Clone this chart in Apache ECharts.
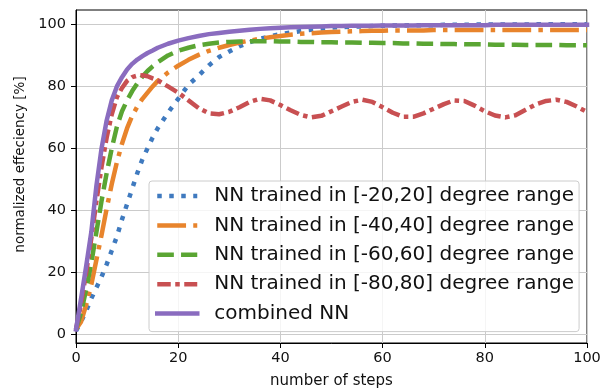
<!DOCTYPE html>
<html>
<head>
<meta charset="utf-8">
<script src="https://cdn.jsdelivr.net/npm/echarts@6/dist/echarts.min.js"></script>
<style>
  html, body { margin: 0; padding: 0; background: #fff; }
  #chart { width: 602px; height: 391px; }
</style>
</head>
<body>
<div id="chart"></div>
<script>
// sampled steps (x) shared by all curves
const steps = [0, 1, 2, 3, 4, 5, 6, 7, 8, 9, 10, 11, 12, 13, 14, 15, 16,
  18, 20, 22, 24, 26, 28, 30, 32, 34, 36, 38, 40, 42, 44, 46, 48, 50,
  52, 54, 56, 58, 60, 62, 64, 66, 68, 70, 72, 74, 76, 78, 80, 82, 84,
  86, 88, 90, 92, 94, 96, 98, 100];

const nn20 = [1, 4, 7.5, 11.5, 15, 18.5, 22.5, 27, 31.5, 37, 42, 47, 52, 56.5, 60, 63.5, 66.5,
  71.5, 76, 80.5, 83.5, 86.8, 89.5, 91.3, 93, 94.3, 95.4, 96.2, 96.9, 97.4, 97.9, 98.3, 98.7, 99,
  99.2, 99.3, 99.4, 99.5, 99.6, 99.7, 99.7, 99.8, 99.8, 99.8, 99.9, 99.9, 99.9, 100, 100, 100,
  100, 100, 100, 100.1, 100.1, 100.1, 100.1, 100.1, 100.1];

const nn40 = [1.5, 4, 9.5, 16, 24, 32, 40.5, 48.5, 55.5, 61.5, 66.5, 70.5, 73.5, 76, 78, 80, 81.8,
  84.5, 86.7, 88.6, 90.2, 91.5, 92.5, 93.4, 94.2, 94.8, 95.4, 95.9, 96.3, 96.7, 97, 97.2, 97.4, 97.6,
  97.7, 97.8, 97.9, 98, 98, 98.1, 98.1, 98.1, 98.1, 98.2, 98.2, 98.2, 98.2, 98.2, 98.2, 98.2, 98.2,
  98.2, 98.2, 98.2, 98.2, 98.2, 98.2, 98.2, 98.2];

const nn60 = [1.5, 7, 14.5, 23, 33, 43, 52, 60, 67, 72, 75.5, 78.5, 81, 83.2, 85, 86.5, 87.8,
  90, 91.5, 92.5, 93.3, 93.8, 94.2, 94.4, 94.5, 94.6, 94.6, 94.6, 94.5, 94.5, 94.4, 94.4, 94.3, 94.3,
  94.2, 94.2, 94.1, 94.1, 94, 94, 93.9, 93.9, 93.8, 93.8, 93.7, 93.7, 93.6, 93.6, 93.6, 93.5, 93.5,
  93.5, 93.4, 93.4, 93.4, 93.4, 93.3, 93.3, 93.3];

const nn80 = [1.5, 10, 20, 31, 43, 54, 63.5, 71, 76.5, 79.5, 81.8, 83, 83.5, 83.6, 83.3, 82.6, 82,
  80, 78, 75.5, 73, 71.3, 71, 71.8, 73.3, 75, 76, 75.5, 74, 72.3, 70.8, 70, 70.5, 72,
  73.5, 75, 75.7, 75, 73.3, 71.5, 70.2, 70.2, 71.3, 72.8, 74.3, 75.5, 75.3, 73.8, 72, 70.6, 70,
  70.7, 72.5, 74.2, 75.3, 75.7, 75, 73.5, 71.8];

const combined = [1.5, 11.5, 22, 33, 48, 60, 69, 75.5, 80, 83, 85.5, 87.3, 88.7, 89.8, 90.8, 91.6, 92.5,
  93.8, 94.8, 95.6, 96.3, 96.9, 97.3, 97.7, 98, 98.3, 98.6, 98.8, 99, 99.1, 99.2, 99.3, 99.4, 99.5,
  99.5, 99.6, 99.6, 99.6, 99.7, 99.7, 99.7, 99.7, 99.8, 99.8, 99.8, 99.8, 99.8, 99.8, 99.8, 99.9, 99.9,
  99.9, 99.9, 99.9, 99.9, 99.9, 99.9, 99.9, 99.9];

const names = [
  'NN trained in [-20,20] degree range',
  'NN trained in [-40,40] degree range',
  'NN trained in [-60,60] degree range',
  'NN trained in [-80,80] degree range',
  'combined NN'
];
const colors = ['#3f7abf', '#e8842c', '#5aa533', '#c85052', '#8a6cbf'];
const dashes = [[4.5, 7.5], [28.8, 7.2, 4.5, 7.2], [16.6, 7.2], [13.5, 4.5, 4.5, 4.5], 'solid'];
const yTicks = [0, 20, 40, 60, 80, 100];

const font = 'DejaVu Sans';
const seriesVals = [nn20, nn40, nn60, nn80, combined];

const chart = echarts.init(document.getElementById('chart'), null, { renderer: 'canvas' });

const series = seriesVals.map((vals, i) => ({
  name: names[i],
  type: 'line',
  data: steps.map((s, k) => [s, vals[k]]),
  symbol: 'none',
  color: colors[i],
  lineStyle: { color: colors[i], width: 4.5, type: dashes[i], cap: i === 4 ? 'square' : 'butt', join: 'round' },
  emphasis: { disabled: true },
  animation: false
}));

chart.setOption({
  animation: false,
  grid: {
    left: 76, right: 15, top: 10, bottom: 48,
    outerBoundsMode: 'none', containLabel: false,
    show: true, borderColor: '#000', borderWidth: 1, backgroundColor: 'transparent'
  },
  xAxis: {
    type: 'value', min: 0, max: 100, interval: 20,
    name: 'number of steps', nameLocation: 'middle', nameGap: 31,
    nameTextStyle: { fontFamily: font, fontSize: 15, color: '#111' },
    axisLine: { onZero: false, lineStyle: { color: '#000', width: 1 } },
    axisTick: { show: true, length: 5, lineStyle: { color: '#000' } },
    axisLabel: { fontFamily: font, fontSize: 14.5, color: '#111', margin: 8 },
    splitLine: { show: true, lineStyle: { color: '#cbcbcb', width: 1 } }
  },
  yAxis: {
    type: 'value', min: -2.9, max: 104.7,
    name: 'normalized effeciency [%]', nameLocation: 'middle', nameGap: 38,
    nameTextStyle: { fontFamily: font, fontSize: 13.5, color: '#111', padding: [0, 0, 0, 24] },
    axisLine: { onZero: false, lineStyle: { color: '#000', width: 1 } },
    axisTick: { show: true, length: 5, customValues: yTicks, lineStyle: { color: '#000' } },
    axisLabel: { fontFamily: font, fontSize: 14.5, color: '#111', margin: 10, customValues: yTicks },
    splitLine: { show: true, lineStyle: { color: '#cbcbcb', width: 1 } }
  },
  legend: {
    orient: 'vertical', left: 149, top: 181,
    itemWidth: 40, itemHeight: 0.1, itemGap: 9.4,
    padding: [5, 5, 8, 6],
    backgroundColor: 'rgba(255,255,255,0.8)',
    borderColor: '#cccccc', borderWidth: 1, borderRadius: 3,
    lineStyle: { width: 4.5 },
    textStyle: { fontFamily: font, fontSize: 20, color: '#111', padding: [0, 0, 0, 12] },
    data: names
  },
  series: series
});
</script>
</body>
</html>
